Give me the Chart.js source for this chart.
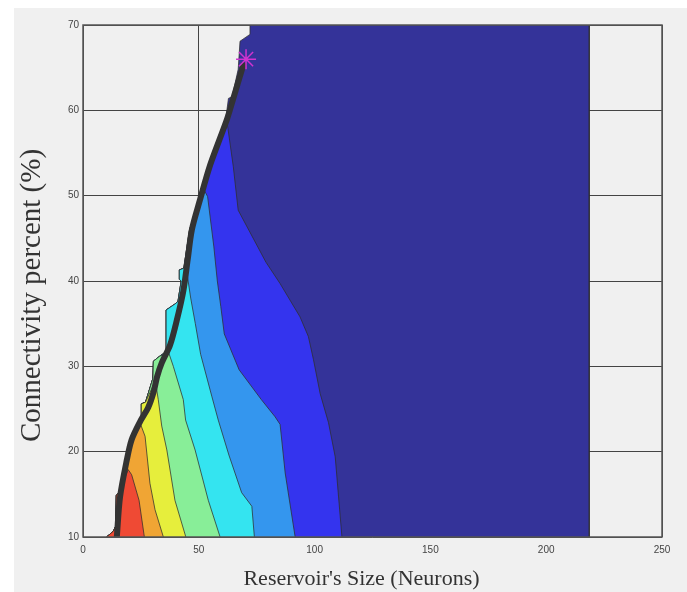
<!DOCTYPE html>
<html>
<head>
<meta charset="utf-8">
<script src="https://cdn.jsdelivr.net/npm/chart.js@4.4.1/dist/chart.umd.min.js"></script>
<style>
  html, body { margin: 0; padding: 0; background: #fff; }
  #panel { position: absolute; left: 14px; top: 8px; width: 673px; height: 584px; background: #f0f0f0; }
</style>
</head>
<body>
<div id="panel"><canvas id="chart" width="673" height="584"></canvas></div>
<script>
// axes: x = reservoir size (neurons), y = connectivity percent
const xTicks = [0, 50, 100, 150, 200, 250];
const yTicks = [10, 20, 30, 40, 50, 60, 70];

// left edge of the filled area, bottom -> top (steps stick out left of the black curve)
const edge = [
  [10.2, 10], [13.2, 10.7], [14.2, 11.3], [14.4, 14.9], [15.6, 15.2], [18.3, 19.0],
  [20.4, 21.4], [24.0, 23.4], [25.2, 23.9], [25.2, 25.6], [27.0, 25.8], [30.2, 28.6],
  [30.4, 30.6], [33.2, 31.2], [35.9, 31.7], [35.9, 36.6], [39.7, 37.3], [41.0, 37.6],
  [42.4, 40.0], [41.6, 40.2], [41.6, 41.3], [43.5, 41.5], [44.9, 44.0], [46.0, 46.0],
  [50.0, 49.5], [54.4, 53.6], [61.6, 58.9], [62.8, 61.4], [64.4, 61.6], [67.0, 64.8],
  [67.8, 68.1], [72.1, 68.9],
];

// right boundary of each band, top -> bottom
const navyLine = [[72.1, 70], [218.6, 70], [218.6, 10]];
const blueLine = [[62.0, 59.0], [64.9, 53.4], [67.0, 48.3], [79.0, 42.2], [85.1, 39.7], [93.7, 35.8],
  [97.3, 33.5], [99.5, 30.8], [102.4, 26.8], [106.0, 23.4], [108.9, 19.4], [111.8, 10]];
const midBlueLine = [[52.0, 50.8], [53.8, 49.9], [56.5, 44.0], [58.0, 40.0], [59.5, 37.0], [61.0, 33.8],
  [67.4, 29.6], [77.0, 26.1], [82.9, 24.1], [85.1, 23.2], [87.3, 17.5], [91.6, 10]];
const cyanLine = [[44.3, 42.0], [46.5, 38.0], [48.5, 35.0], [50.8, 31.4], [55.6, 26.5], [58.4, 23.7],
  [63.0, 19.6], [68.5, 15.2], [72.9, 13.6], [74.0, 10]];
const greenLine = [[37.0, 31.6], [39.0, 30.0], [43.3, 26.1], [44.3, 23.7], [48.4, 20.2], [54.1, 14.3], [59.2, 10]];
const yellowLine = [[31.2, 28.3], [32.5, 26.1], [34.0, 23.0], [36.2, 20.2], [39.7, 14.3], [44.4, 10]];
const orangeLine = [[24.6, 23.4], [26.8, 21.8], [28.9, 16.3], [31.1, 13.2], [34.7, 10]];
const redLine = [[19.5, 17.9], [21.0, 17.3], [24.2, 14.3], [26.5, 10]];

// black trade-off curve and the marked point
const frontier = [[14.6, 10], [16.0, 14.7], [18.9, 19.0], [21.0, 21.4], [24.6, 23.5], [28.2, 25.2],
  [30.5, 27.0], [32.0, 28.8], [34.0, 30.4], [37.6, 32.5], [40.5, 35.4], [43.3, 38.8], [45.2, 42.5],
  [47.0, 46.0], [50.5, 49.5], [54.9, 53.6], [62.1, 58.9], [64.9, 61.4], [69.2, 65.3]];
const bestPoint = [70.4, 66.0];

const bands = [
  { line: navyLine, color: '#343399' },
  { line: blueLine, color: '#3434ee' },
  { line: midBlueLine, color: '#3496ee' },
  { line: cyanLine, color: '#34e4f0' },
  { line: greenLine, color: '#88ee98' },
  { line: yellowLine, color: '#e6ee3c' },
  { line: orangeLine, color: '#f0a534' },
  { line: redLine, color: '#ef4a34' },
];

const toPoints = (list) => list.map(([x, y]) => ({ x, y }));

function bandPolygon(line) {
  const topY = line[0][1];
  const left = edge.filter(([, y]) => y < topY);
  return toPoints(left.concat(line));
}

const datasets = bands.map((b, i) => ({
  data: bandPolygon(b.line),
  showLine: true,
  fill: 'shape',
  backgroundColor: b.color,
  borderColor: 'rgba(45,45,45,0.75)',
  borderWidth: 1,
  pointRadius: 0,
  tension: 0,
  order: 20 - i,
}));

datasets.push({
  data: toPoints(frontier),
  showLine: true,
  fill: false,
  borderColor: '#333333',
  borderWidth: 6,
  borderCapStyle: 'round',
  borderJoinStyle: 'round',
  pointRadius: 0,
  tension: 0.3,
  order: 2,
});

datasets.push({
  data: toPoints([bestPoint]),
  showLine: false,
  pointStyle: 'star',
  pointRadius: 10,
  borderColor: '#d033d0',
  borderWidth: 1.5,
  order: 1,
});

const framePlugin = {
  id: 'frame',
  afterDatasetsDraw(chart) {
    const { ctx, chartArea: a } = chart;
    ctx.save();
    ctx.strokeStyle = '#555';
    ctx.lineWidth = 1.5;
    ctx.strokeRect(a.left, a.top, a.right - a.left, a.bottom - a.top);
    ctx.restore();
  },
};

const tickFont = { family: 'Liberation Sans', size: 10 };
const titleFamily = 'Liberation Serif';

new Chart(document.getElementById('chart'), {
  type: 'scatter',
  data: { datasets },
  plugins: [framePlugin],
  options: {
    responsive: false,
    animation: false,
    layout: { padding: { left: 0, right: 25, top: 17, bottom: 0 } },
    plugins: { legend: { display: false }, tooltip: { enabled: false } },
    scales: {
      x: {
        type: 'linear',
        min: xTicks[0],
        max: xTicks[xTicks.length - 1],
        afterBuildTicks: (s) => { s.ticks = xTicks.map((v) => ({ value: v })); },
        afterFit: (s) => { s.height = 55; },
        grid: { color: '#444', lineWidth: 1, drawTicks: false },
        border: { display: false },
        ticks: { font: tickFont, color: '#444', padding: 7 },
        title: {
          display: true,
          text: "Reservoir's Size (Neurons)    ",
          font: { family: titleFamily, size: 22 },
          color: '#333',
          padding: { top: 0, bottom: 0 },
        },
      },
      y: {
        type: 'linear',
        min: yTicks[0],
        max: yTicks[yTicks.length - 1],
        afterBuildTicks: (s) => { s.ticks = yTicks.map((v) => ({ value: v })); },
        afterFit: (s) => { s.width = 69; },
        grid: { color: '#444', lineWidth: 1, drawTicks: false },
        border: { display: false },
        ticks: { font: tickFont, color: '#444', padding: 4 },
        title: {
          display: true,
          text: 'Connectivity percent (%)    ',
          font: { family: titleFamily, size: 29 },
          color: '#333',
          padding: { top: 1, bottom: 0 },
        },
      },
    },
  },
});
</script>
</body>
</html>
